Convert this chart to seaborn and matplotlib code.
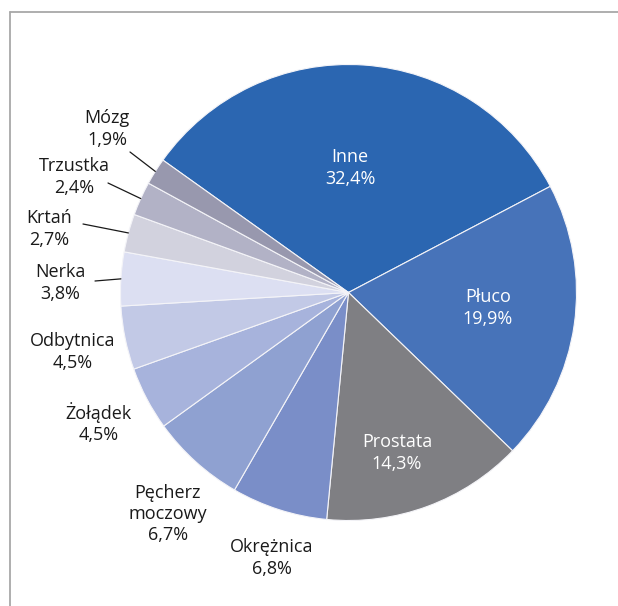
import numpy as np
import matplotlib
matplotlib.use("Agg")
import matplotlib.pyplot as plt
from matplotlib.lines import Line2D
import seaborn as sns

# ---- data ----
categories = ["Inne", "Płuco", "Prostata", "Okrężnica", "Pęcherz\nmoczowy",
              "Żołądek", "Odbytnica", "Nerka", "Krtań", "Trzustka", "Mózg"]
values = [32.4, 19.9, 14.3, 6.8, 6.7, 4.5, 4.5, 3.8, 2.7, 2.4, 1.9]
value_labels = ["32,4%", "19,9%", "14,3%", "6,8%", "6,7%", "4,5%", "4,5%",
                "3,8%", "2,7%", "2,4%", "1,9%"]

colors_hex = ["#2B66B1", "#4773B9", "#7F7F83", "#7A8EC8", "#8FA1D1",
              "#A7B3DC", "#C2C9E6", "#DCDFF2", "#D2D2DE", "#B2B2C6", "#9898AE"]

sns.set_style("white")
plt.rcParams["font.family"] = ["Open Sans", "DejaVu Sans"]
palette = sns.color_palette(colors_hex)

W, H = 618, 606
fig = plt.figure(figsize=(W / 100, H / 100), dpi=100)
cx, cy, R = 348.5, 292.5, 228.0
ax = fig.add_axes([(cx - R) / W, (H - cy - R) / H, 2 * R / W, 2 * R / H])

wedges, _ = ax.pie(values, colors=palette, startangle=144.5, counterclock=False,
                   wedgeprops=dict(edgecolor="#F4F4F8", linewidth=0.8))
ax.set_xlim(-1, 1)
ax.set_ylim(-1, 1)
ax.set_aspect("equal")
ax.axis("off")
ax.set_clip_on(False)

def px2d(px, py):
    return (px - cx) / R, (cy - py) / R

# label positions (pixel centres) and style per slice
label_pos = [(350, 168), (488, 308), (397, 453), (272, 558), (168, 514),
             (99, 423), (73, 352), (60, 283), (49, 229), (74, 177), (107, 129)]
inside = [True, True, True] + [False] * 8
# leader line start points (pixel) for small slices
leaders = {7: (95, 281), 8: (83, 224), 9: (108, 183), 10: (130, 152)}

for i, (w, cat, vl) in enumerate(zip(wedges, categories, value_labels)):
    x, y = px2d(*label_pos[i])
    col = "white" if inside[i] else "#1A1A1A"
    ax.text(x, y, f"{cat}\n{vl}", ha="center", va="center", color=col,
            fontsize=13, linespacing=1.25, clip_on=False)
    if i in leaders:
        th = np.deg2rad((w.theta1 + w.theta2) / 2)
        ex, ey = np.cos(th), np.sin(th)
        sx, sy = px2d(*leaders[i])
        ax.plot([sx, ex], [sy, ey], color="#1A1A1A", lw=0.9, clip_on=False)

# partial frame (top and left edges)
fig.add_artist(Line2D([9.5 / W, 1], [1 - 12 / H, 1 - 12 / H], color="#A8A8A8",
                      lw=1.3, transform=fig.transFigure))
fig.add_artist(Line2D([9.5 / W, 9.5 / W], [0, 1 - 12 / H], color="#A8A8A8",
                      lw=1.3, transform=fig.transFigure))

fig.savefig("out.png", dpi=100)
